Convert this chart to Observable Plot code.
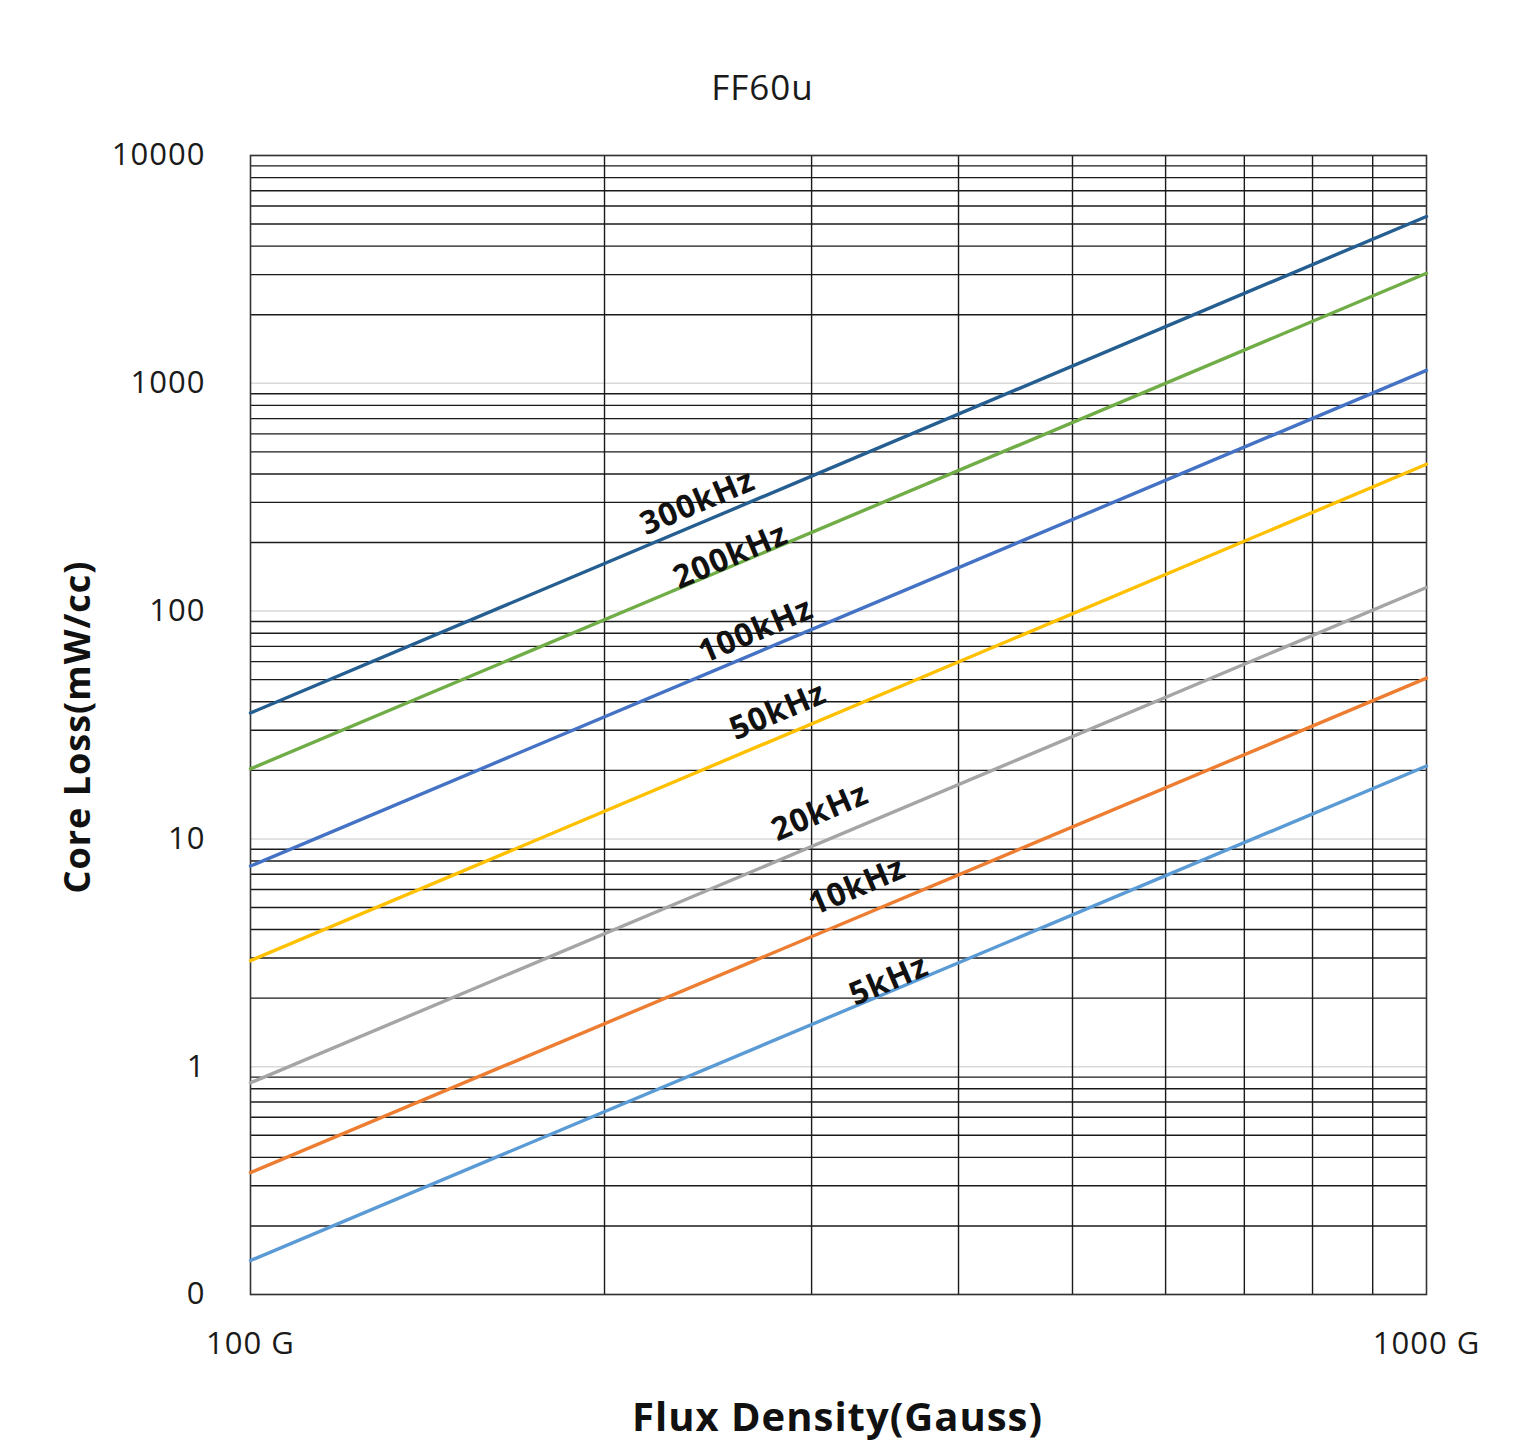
<!DOCTYPE html>
<html>
<head>
<meta charset="utf-8">
<script src="https://cdn.jsdelivr.net/npm/d3@7"></script>
<script src="https://cdn.jsdelivr.net/npm/@observablehq/plot@0.6"></script>
<style>
  html, body { margin: 0; padding: 0; background: white; }
</style>
</head>
<body>
<div id="chart"></div>
<script>
// ---- data ----
const freqs      = ["300kHz", "200kHz", "100kHz", "50kHz", "20kHz", "10kHz", "5kHz"];
const colors     = ["#255E91", "#70AD47", "#4472C4", "#FFC000", "#A5A5A5", "#ED7D31", "#5B9BD5"];
const fluxPoints = [100, 1000];                                 // Gauss
const lossAt100  = [35.7, 20.3, 7.6, 2.92, 0.85, 0.343, 0.141]; // mW/cc at 100 G
const lossAt1000 = [5400, 3040, 1140, 441, 127, 50.8, 20.9];    // mW/cc at 1000 G
// where each series label sits (data coordinates of the label's centre)
const labelFlux  = [240, 256, 269, 281, 305, 328, 349];
const labelLoss  = [300, 174, 82, 36.3, 13.1, 6.18, 2.39];

const yTicks      = [0.1, 1, 10, 100, 1000, 10000];
const yTickLabels = ["0", "1", "10", "100", "1000", "10000"];
const xTicks      = [100, 1000];
const xTickLabels = ["100 G", "1000 G"];
const yMinor = [];
for (let e = -1; e < 4; e++) for (let m = 2; m <= 9; m++) yMinor.push(m * Math.pow(10, e));
const xMinor = [200, 300, 400, 500, 600, 700, 800, 900];

// ---- tables ----
const lineData = [];
freqs.forEach((f, i) => {
  lineData.push({freq: f, flux: fluxPoints[0], loss: lossAt100[i]});
  lineData.push({freq: f, flux: fluxPoints[1], loss: lossAt1000[i]});
});
const labelData = freqs.map((f, i) => ({freq: f, flux: labelFlux[i], loss: labelLoss[i]}));

const FONT = "'Open Sans', 'Noto Sans', sans-serif";

const chart = Plot.plot({
  width: 1524,
  height: 1443,
  marginTop: 155,
  marginBottom: 149,
  marginLeft: 250,
  marginRight: 98,
  style: {fontFamily: FONT, fontSize: "31px", letterSpacing: "1px", background: "white", color: "#1a1a1a"},
  x: {
    type: "log", domain: [100, 1000], ticks: xTicks,
    tickFormat: d => xTickLabels[xTicks.indexOf(d)],
    tickSize: 0, tickPadding: 37, label: null
  },
  y: {
    type: "log", domain: [0.1, 10000], ticks: yTicks,
    tickFormat: d => yTickLabels[yTicks.findIndex(v => Math.abs(v - d) < 1e-9 * v)],
    tickSize: 0, tickPadding: 45, label: null
  },
  color: {domain: freqs, range: colors},
  marks: [
    Plot.ruleY(yTicks, {stroke: "#d9d9d9", strokeWidth: 1.5}),
    Plot.ruleY(yMinor, {stroke: "#1a1a1a", strokeWidth: 1.4}),
    Plot.ruleX(xMinor, {stroke: "#1a1a1a", strokeWidth: 1.4}),
    Plot.frame({stroke: "#333", strokeWidth: 1.6}),
    Plot.line(lineData, {x: "flux", y: "loss", z: "freq", stroke: "freq", strokeWidth: 3.4}),
    Plot.text(labelData, {
      x: "flux", y: "loss", text: "freq", rotate: -23,
      fontSize: 32, fontWeight: "bold", fill: "#111",
      textAnchor: "middle", lineAnchor: "middle"
    }),
    Plot.text(["FF60u"], {frameAnchor: "top", textAnchor: "middle", dx: -76, dy: -67, fontSize: 35, fill: "#1a1a1a", lineAnchor: "middle"}),
    Plot.text(["Core Loss(mW/cc)"], {frameAnchor: "left", textAnchor: "middle", rotate: -90, dx: -172, dy: 2, fontSize: 36, fontWeight: "bold", fill: "#111", lineAnchor: "middle"}),
    Plot.text(["Flux Density(Gauss)"], {frameAnchor: "bottom", textAnchor: "middle", dx: -1, dy: 124, fontSize: 40, fontWeight: "bold", fill: "#111", lineAnchor: "middle"})
  ]
});
document.getElementById("chart").appendChild(chart);
</script>
</body>
</html>
